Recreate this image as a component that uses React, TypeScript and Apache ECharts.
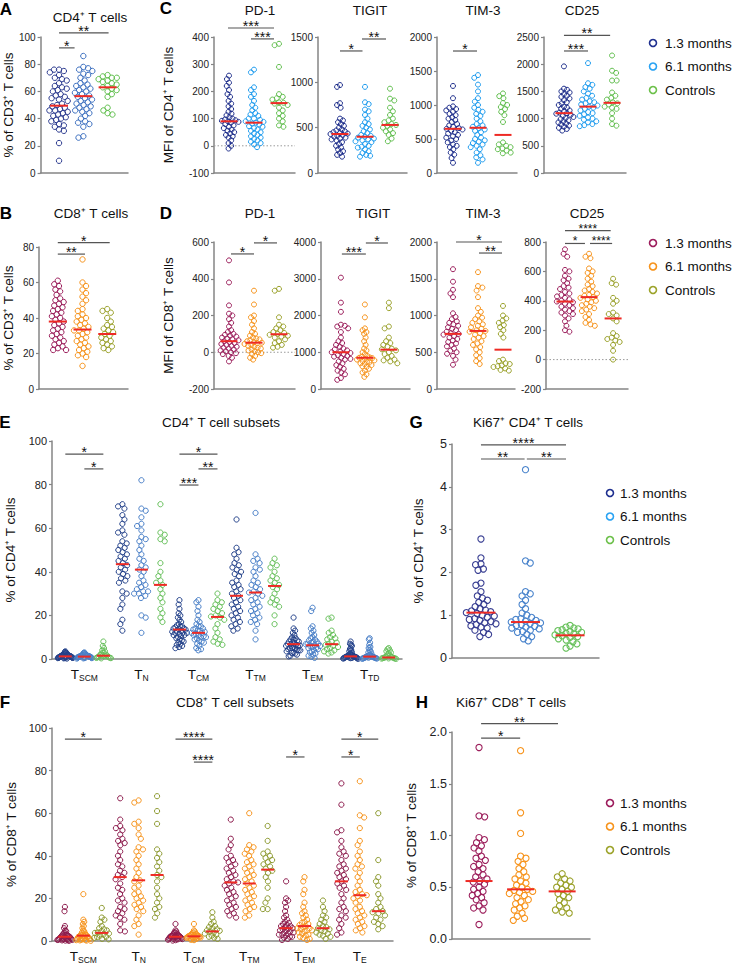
import React, { useEffect, useRef } from 'react';
import * as echarts from 'echarts';

// ---------------- DATA ----------------
// A: CD4+ T cells, % of CD3+
const A_M13 = [76,76,75,74,72,70,69,68,66,64,63,62,61,60,58,57,56,55,54,53,51,50,49,48,47,46,46,45,44,43,42,41,40,39,38,36,35,34,32,31,22,9];
const A_M61 = [86,78,77,76,75,73,72,70,68,66,65,64,63,62,61,60,59,58,57,56,55,54,53,52,51,50,49,48,47,46,45,44,42,40,38,37,36,34,27,26];
const A_CTRL = [72,71,70,70,69,68,67,66,65,64,63,62,61,60,58,56,48,46,44,43];
const A_MED = [49.5, 56.5, 63];
// B: CD8+ T cells, % of CD3+
const B_M13 = [61,59,58,56,55,53,51,50,49,48,47,46,45,44,43,42,41,40,39,38,37,36,35,34,33,32,31,30,29,28,27,26,25,24,23,22,22];
const B_M61 = [73,60,58,56,54,52,50,48,45,44,42,41,40,39,38,37,36,35,34,33,33,32,31,30,29,28,27,26,25,24,23,22,21,20,19,18,13];
const B_CTRL = [45,44,43,40,38,36,35,34,33,32,31,30,29,28,27,26,25,24,23,22];
const B_MED = [38, 33.5, 31];
// C: MFI of CD4+ T cells
const C_PD1_M13 = [258,245,232,220,205,190,180,165,155,145,135,125,118,112,105,100,97,94,92,90,88,85,80,75,70,65,60,55,50,45,40,35,30,20,10,0,-10];
const C_PD1_M61 = [280,270,215,205,190,180,165,150,140,130,120,115,110,100,100,95,90,88,85,82,78,72,70,65,60,55,50,45,40,35,30,25,20,15,10,5,-5];
const C_PD1_CTRL = [375,370,290,190,180,175,170,160,158,155,150,140,130,120,110,100,90,75,70];
const C_PD1_MED = [90, 85, 157];
const C_TIGIT_M13 = [970,950,770,750,720,600,580,560,540,520,500,480,470,460,450,440,435,430,420,410,400,390,380,370,360,340,320,300,280,260,240,220,200,180];
const C_TIGIT_M61 = [950,780,760,700,680,640,600,560,540,520,500,480,460,440,420,410,400,390,380,370,360,350,340,320,300,290,280,260,240,220,200,190,180];
const C_TIGIT_CTRL = [930,820,800,720,680,640,600,580,560,540,530,520,500,480,460,440,420,380,350];
const C_TIGIT_MED = [430, 400, 530];
const C_TIM3_M13 = [1280,1100,980,960,940,920,900,870,850,820,800,780,750,720,700,680,660,650,640,620,600,580,560,540,520,500,480,450,420,400,380,350,300,270,220,150];
const C_TIM3_M61 = [1440,1400,1300,1200,1100,1050,1000,960,930,900,870,840,800,760,720,700,680,660,640,620,600,560,520,500,480,460,440,420,400,380,350,300,260,230,200,150];
const C_TIM3_CTRL = [1170,1130,1100,1030,1000,970,940,900,850,750,450,420,400,380,360,350,330,300,290];
const C_TIM3_MED = [650, 665, 560];
const C_CD25_M13 = [1960,1550,1530,1500,1480,1450,1420,1400,1370,1340,1300,1280,1250,1220,1200,1180,1150,1130,1110,1100,1090,1070,1050,1030,1010,990,970,950,930,910,890,870,850,830,810,780];
const C_CD25_M61 = [2020,1650,1620,1580,1550,1500,1460,1420,1380,1350,1320,1300,1280,1260,1240,1220,1200,1180,1150,1120,1100,1080,1050,1020,1000,980,950,930,900,880,860];
const C_CD25_CTRL = [2160,1880,1840,1700,1700,1480,1420,1380,1350,1300,1280,1260,1220,1200,1180,1100,1000,900,870];
const C_CD25_MED = [1100, 1220, 1290];
// D: MFI of CD8+ T cells
const D_PD1_M13 = [500,380,255,210,200,180,160,140,120,110,100,95,90,85,80,75,70,65,60,55,50,45,40,35,30,25,20,15,10,5,0,-5,-10,-20,-30,-50];
const D_PD1_M61 = [335,260,200,190,170,150,130,110,100,90,80,75,70,65,60,55,52,50,45,40,35,30,25,20,15,10,5,0,-5,-10,-20,-30,-40];
const D_PD1_CTRL = [345,335,190,150,140,130,120,110,105,100,95,90,85,80,70,60,50,40,30,25];
const D_PD1_MED = [60, 52, 98];
const D_TIGIT_M13 = [3030,2350,2100,1750,1720,1700,1650,1550,1400,1300,1250,1200,1150,1100,1080,1050,1020,1000,980,950,920,900,880,850,820,800,750,700,650,600,550,500,450,400,300,250];
const D_TIGIT_M61 = [2300,1950,1650,1600,1550,1500,1400,1300,1200,1100,1050,1000,950,900,880,860,850,840,820,800,780,760,740,720,700,680,650,620,600,550,500,450,400,330];
const D_TIGIT_CTRL = [2350,2200,1700,1650,1400,1300,1250,1200,1150,1100,1080,1050,1000,950,900,850,800,780,750,700];
const D_TIGIT_MED = [1000, 850, 1070];
const D_TIM3_M13 = [1630,1460,1350,1300,1250,1030,980,950,920,900,880,860,840,820,800,780,760,750,740,720,700,680,660,640,620,600,580,550,520,500,480,450,400,330];
const D_TIM3_M61 = [1590,1400,1380,1340,1250,1100,1050,1000,970,950,920,900,880,860,840,820,800,790,780,760,740,720,700,680,650,620,600,570,540,500,460,420,380,340];
const D_TIM3_CTRL = [1130,1000,960,930,900,870,840,800,750,700,400,380,350,340,320,310,300,280,260,250];
const D_TIM3_MED = [750, 790, 535];
const D_CD25_M13 = [750,720,700,610,600,570,550,540,520,500,490,480,460,450,440,430,420,410,400,395,390,380,370,360,350,340,330,320,310,300,280,260,230,200,190];
const D_CD25_M61 = [720,700,690,620,600,590,570,550,530,510,500,480,470,460,450,440,435,425,420,410,400,390,380,370,360,350,340,330,310,290,270,250,240,230];
const D_CD25_CTRL = [550,520,510,420,400,380,320,310,300,280,260,180,160,150,140,130,120,100,60,0];
const D_CD25_MED = [395, 425, 280];
// E: CD4+ T cell subsets (% of CD4+)
const E_SCM_13 = [3.5,3.2,3,2.8,2.6,2.4,2.2,2,1.9,1.8,1.7,1.6,1.5,1.5,1.4,1.4,1.3,1.3,1.2,1.2,1.1,1.1,1,1,0.9,0.9,0.8,0.8,0.7,0.7,0.6,0.6,0.5,0.5,0.4,0.3,0.2,2.1,1.8,1.6];
const E_SCM_61 = [3,2.8,2.6,2.4,2.2,2,1.9,1.8,1.7,1.6,1.5,1.4,1.3,1.2,1.2,1.1,1.1,1,1,0.9,0.9,0.8,0.8,0.7,0.7,0.6,0.5,0.4,0.3,0.2,1.4,1.3,1.5];
const E_SCM_C = [8,6,5,4,3.5,3,2.5,2,1.8,1.6,1.5,1.4,1.2,1,0.8,0.6,0.5,0.4,0.3];
const E_TN_13 = [71,70,69,66,64,62,59,58,57,54,53,52,51,50,49,48,47,46,45,44,43,42,41,40,39,38,37,36,35,31,30,28,25,23,18,16,13];
const E_TN_61 = [82,69,68,65,62,61,59,56,55,54,52,50,48,46,45,43,42,41,40,38,36,35,34,33,32,31,31,30,30,29,28,20,19,12];
const E_TN_C = [71,58,57,55,54,44,40,38,36,35,34,32,30,28,26,23,21,19,17];
const E_TCM_13 = [27,25,23,21,20,19,18,17,16,15.5,15,14.5,14,14,13.8,13.5,13,13,12.5,12,12,11.5,11,11,10.5,10,9.5,9,8.5,8,7.5,7,6.5,6,5.5,5,15,12];
const E_TCM_61 = [27,26,24,22,20,18,17,16,15,15,14,14,13.5,13,13,12.5,12,12,11.5,11,11,10.5,10,10,9.5,9,8.5,8,7.5,7,6,5,4.5,4];
const E_TCM_C = [30,27,26,25,24,23,22,21,20,19.5,19,18,16,14,12,10,9,8,7,6.5];
const E_TTM_13 = [64,51,49,48,46,44,43,42,41,40,39,38,36,35,34,33,32,31,30,29,28,27,26,25,24,23,22,21,20,19,18,17,16,15,14,13];
const E_TTM_61 = [67,48,46,45,44,42,41,40,38,36,35,34,33,32,31,30.5,30,29,28,27,26,25,24,23,22,21,20,19,18,17,16,13,9];
const E_TTM_C = [46,44,43,42,40,38,37,36,35,34,33,32,30,28,27,26,25,24,20,16];
const E_TEM_13 = [19,14,13,12,11,10,9.5,9,9,8.5,8,8,7.5,7.2,7,6.8,6.5,6.2,6,6,5.5,5,5,4.8,4.5,4.2,4,4,3.5,3,2.8,2.5,2,1.5,1.2];
const E_TEM_61 = [23.5,22,15,14,13,12,11,10,9.5,9,8.5,8,8,7.5,7,7,6.8,6.3,6,6,5.5,5,5,4.5,4,3.5,3,2.5,2,1.5,1,0.5];
const E_TEM_C = [19,18.5,13,12,11,10,9.5,9,8,7.5,7,6.5,6,5.5,5,4.5,4,3.5,3,2.5];
const E_TTD_13 = [8,7,6.5,6,5,4.5,4,3.5,3,2.5,2.2,2,1.8,1.6,1.5,1.4,1.3,1.2,1.1,1,1,0.9,0.8,0.8,0.7,0.6,0.6,0.5,0.4,0.4,0.3,0.2,0.1];
const E_TTD_61 = [9.5,9,7.5,6.5,5.5,5,4,3.5,3,2.5,2,1.8,1.5,1.3,1.2,1.1,1,0.9,0.8,0.8,0.7,0.6,0.6,0.5,0.4,0.4,0.3,0.2,0.1];
const E_TTD_C = [5,4.5,4,3.5,3,2.5,2,1.5,1.2,1,0.8,0.7,0.6,0.5,0.4,0.3,0.2,0.2,0.1];
const E_MED = [1.2,1.1,1.5,43.5,41,34,13.5,12,19.3,29,30.5,33.5,6.8,6.3,6.8,1.2,1.1,0.7];
const E_CATS = ['SCM', 'N', 'CM', 'TM', 'EM', 'TD'];
// F: CD8+ T cell subsets (% of CD8+)
const F_SCM_13 = [16,14,7,6,5,4.5,4,3.5,3,3,2.8,2.5,2.5,2.2,2,2,1.8,1.5,1.5,1.2,1.2,1,1,0.8,0.8,0.6,0.5,0.5,0.4,0.3,0.2,0.1];
const F_SCM_61 = [22,10,9,8,7,6,5,4.5,4,3.5,3,3,2.8,2.5,2.5,2.2,2,2,1.8,1.5,1.5,1.2,1,1,0.8,0.6,0.5,0.4,0.3,0.2,0.1];
const F_SCM_C = [15.5,11,10,9,7,6,5.5,5,4.5,4,3.8,3.5,3,2.5,2,1.8,1.5,1,0.8];
const F_TN_13 = [67,57,54,53,52,50,48,47,46,45,42,40,38,36,35,33,32,31,30,29,27,25,24,22,20,19,18,16,15,14,13,12,11,10,8,5,4.5];
const F_TN_61 = [66,65,56,55,53,50,48,44,43,42,40,38,36,34,32,30,28.5,28,26,25,23,22,21,20,19,18,17,16,15,14,12,10,8,7,3];
const F_TN_C = [68,61,55,43,41,39,37,35,33,31,30,28,25,22,20,18,16,15,13,11];
const F_TCM_13 = [8,5,4.5,4,3.8,3.5,3.2,3,2.8,2.6,2.5,2.4,2.3,2.2,2.1,2,1.9,1.8,1.7,1.6,1.5,1.4,1.2,1.1,1,0.9,0.8,0.6,0.4,0.2];
const F_TCM_61 = [8,5,4.5,4,3.6,3.5,3.2,3,2.9,2.8,2.6,2.5,2.4,2.3,2.2,2.1,2,1.9,1.8,1.7,1.6,1.5,1.4,1.2,1,0.8,0.6,0.4];
const F_TCM_C = [13.5,11,9,8,7,6.5,6,5.5,5,4.8,4.5,4,3.5,3,2.5,2,1.5,1];
const F_TTM_13 = [57,48,45,43,40,39,38,37,36,35,34,33,32,31,30,29,28,27.5,27,26,25,24,23,22,21,20,19,18,17,16,15,14,13,12,11];
const F_TTM_61 = [60,45,44,43,42,41,40,38,37,36,35,34,33,32,31,30,29,28,27,26,25,24,23,22,21,20,19,18,17,16,15,14,12,11];
const F_TTM_C = [54,47,42,41,40,39,38,37,36,35,34,33,32,30,28,25,20,18,15,15];
const F_TEM_13 = [28,20,19,18,16,14,12,11,10,9,8.5,8,7.5,7,7,6.5,6,6,5.5,5,5,4.5,4,4,3.5,3,3,2.5,2,2,1.5,1,0.5];
const F_TEM_61 = [30,28,24,22,18,16,14,13,12,11,10,9,8.5,8,7.5,7,6.5,6,6,5.5,5,5,4.5,4,3.5,3,2.5,2,1.5,1,0.5];
const F_TEM_C = [19,16,14,12,11,10,9,8,7,6.5,6,5.5,5,4.5,4,3.5,3,2.5,2,1];
const F_TE_13 = [74,64,52,51,47,44,42,41,40,38,36,35,34,33,32,31,30,29,28,27,26,25,24,22,20,18,16,15,14,12,11,10,8,6,4,3];
const F_TE_61 = [75,59,58,53,47,45,42,40,38,36,35,34,32,30,28,26,24,23,22,21.5,21,20,19,18,16,15,14,13,12,11,10,9,8,7,6,5,4];
const F_TE_C = [60,38,30,28,26,22,20,18,16,15,14,13.5,13,12,11,10,9,8,7,5.5];
const F_MED = [2,2.5,3.8,30,28.5,31,2,2.2,4.5,27.5,27,33.5,6,7,6,28,21.5,14];
const F_CATS = ['SCM', 'N', 'CM', 'TM', 'EM', 'E'];
// G: Ki67+ CD4+ T cells
const G_M13 = [2.78,2.34,2.2,2.18,2.08,2.05,1.75,1.7,1.55,1.45,1.4,1.35,1.3,1.25,1.2,1.15,1.12,1.1,1.08,1.06,1.04,1.0,0.98,0.95,0.92,0.9,0.88,0.85,0.82,0.8,0.78,0.75,0.72,0.7,0.65,0.6,0.55,0.5];
const G_M61 = [4.4,2.27,2.22,1.55,1.5,1.45,1.35,1.25,1.15,1.05,1.0,0.95,0.92,0.9,0.88,0.86,0.84,0.82,0.8,0.78,0.76,0.74,0.72,0.7,0.68,0.65,0.62,0.6,0.55,0.5,0.45,0.4];
const G_CTRL = [0.76,0.72,0.7,0.68,0.66,0.64,0.62,0.6,0.58,0.56,0.54,0.52,0.5,0.48,0.45,0.42,0.38,0.33,0.28,0.23];
const G_MED = [1.06, 0.84, 0.53];
// H: Ki67+ CD8+ T cells
const H_M13 = [1.85,1.19,1.18,0.98,0.96,0.93,0.9,0.88,0.85,0.8,0.78,0.76,0.72,0.7,0.68,0.65,0.62,0.6,0.58,0.56,0.55,0.53,0.5,0.48,0.46,0.44,0.42,0.4,0.38,0.35,0.32,0.3,0.28,0.14];
const H_M61 = [1.82,1.22,1.02,0.8,0.78,0.75,0.72,0.68,0.65,0.62,0.6,0.58,0.56,0.54,0.52,0.5,0.48,0.47,0.46,0.45,0.44,0.42,0.4,0.38,0.36,0.34,0.32,0.3,0.28,0.25,0.22,0.2,0.18];
const H_CTRL = [0.63,0.6,0.58,0.56,0.54,0.52,0.5,0.5,0.48,0.46,0.44,0.42,0.4,0.38,0.35,0.32,0.3,0.28,0.26,0.25];
const H_MED = [0.56, 0.48, 0.46];

const LEGEND_LABELS = ['1.3 months', '6.1 months', 'Controls'];

// ---------------- STYLE ----------------
const FONT = "'Liberation Sans', Arial, sans-serif";
const AXIS = '#858585';
const MED_RED = '#ee2a24';
const COL_A = ['#2b3a8f', '#3d70c0', '#5fbf4c'];
const COL_C = ['#1f2f8c', '#1e9cef', '#62bf4f'];
const COL_E = ['#23418a', '#4a80c8', '#66c05a'];
const COL_G = ['#383e92', '#4a84cc', '#66c05a'];
const COL_8 = ['#9c1f5c', '#f7941d', '#9aa12a'];
const COL_F = ['#8c1a4c', '#f7941d', '#8d9a30'];
const LEG4 = ['#1e2f8f', '#2aa3f3', '#6cc04a'];
const LEG8 = ['#9c1c5c', '#f7941d', '#9ca32a'];

type Bracket = [number, number, number, string];

function swarm(ys: number[], d: number, cap: number): number[] {
  const order = ys.map((_, i) => i).sort((a, b) => ys[a] - ys[b]);
  const placed: { x: number; y: number }[] = [];
  const xs = new Array(ys.length).fill(0);
  let side = 1;
  for (const i of order) {
    const y = ys[i];
    const cands = [0];
    for (const p of placed) {
      const dy = Math.abs(p.y - y);
      if (dy < d) {
        const dx = Math.sqrt(d * d - dy * dy);
        cands.push(p.x + dx, p.x - dx);
      }
    }
    cands.sort((a, b) => Math.abs(a) - Math.abs(b) || (a * side > b * side ? -1 : 1));
    let best = 0;
    for (const c of cands) {
      if (placed.every((p) => (p.x - c) * (p.x - c) + (p.y - y) * (p.y - y) >= d * d - 0.01)) {
        best = c;
        break;
      }
    }
    side = -side;
    xs[i] = best;
    placed.push({ x: best, y });
  }
  const m = Math.max(...xs.map((v) => Math.abs(v)), 0.001);
  if (m > cap) for (let i = 0; i < xs.length; i++) xs[i] *= cap / m;
  return xs;
}

interface Panel {
  left: number; top: number; width: number; height: number;
  xMin: number; xMax: number; yMin: number; yMax: number; yStep: number;
  groups: number[][]; medians: number[]; colors: string[];
  r: number; cap: number; medHalf: number; lw: number;
  brackets: Bracket[]; zero?: boolean; starFont?: number;
  yName?: string; nameGap?: number; tickSize: number;
  cats?: string[]; fmt?: (v: number) => string;
}

const PANELS: Panel[] = [
  { left: 38, top: 37, width: 90, height: 136, xMin: -0.76, xMax: 2.84, yMin: 0, yMax: 100, yStep: 20,
    groups: [A_M13, A_M61, A_CTRL], medians: A_MED, colors: COL_A, r: 2.7, cap: 10, medHalf: 9, lw: 1,
    brackets: [[0, 2.04, 103, '**'], [0, 0.64, 92, '*']], yName: '% of CD3⁺ T cells', nameGap: 24, tickSize: 10 },
  { left: 38, top: 247, width: 90, height: 142, xMin: -0.76, xMax: 2.84, yMin: 0, yMax: 80, yStep: 20,
    groups: [B_M13, B_M61, B_CTRL], medians: B_MED, colors: COL_8, r: 2.7, cap: 10, medHalf: 9, lw: 1,
    brackets: [[0, 2.1, 82.5, '*'], [0, 1.1, 76, '**']], yName: '% of CD3⁺ T cells', nameGap: 24, tickSize: 10 },
  { left: 214, top: 37, width: 81, height: 136, xMin: -0.6, xMax: 2.64, yMin: -100, yMax: 400, yStep: 100,
    groups: [C_PD1_M13, C_PD1_M61, C_PD1_CTRL], medians: C_PD1_MED, colors: COL_C, r: 2.5, cap: 9.5, medHalf: 8.5, lw: 1,
    brackets: [[-0.04, 1.8, 433, '***'], [0.88, 1.8, 393, '***']], zero: true, yName: 'MFI of CD4⁺ T cells', nameGap: 39, tickSize: 10 },
  { left: 318, top: 37, width: 89, height: 136, xMin: -0.88, xMax: 2.68, yMin: 0, yMax: 1500, yStep: 500,
    groups: [C_TIGIT_M13, C_TIGIT_M61, C_TIGIT_CTRL], medians: C_TIGIT_MED, colors: COL_C, r: 2.5, cap: 9.5, medHalf: 8.5, lw: 1,
    brackets: [[0, 0.9, 1346, '*'], [0.88, 1.84, 1478, '**']], tickSize: 10 },
  { left: 437, top: 37, width: 80, height: 136, xMin: -0.64, xMax: 2.56, yMin: 0, yMax: 2000, yStep: 500,
    groups: [C_TIM3_M13, C_TIM3_M61, C_TIM3_CTRL], medians: C_TIM3_MED, colors: COL_C, r: 2.5, cap: 9.5, medHalf: 8.5, lw: 1,
    brackets: [[0, 0.96, 1794, '*']], tickSize: 10 },
  { left: 544, top: 37, width: 82, height: 136, xMin: -0.83, xMax: 2.58, yMin: 0, yMax: 2500, yStep: 500,
    groups: [C_CD25_M13, C_CD25_M61, C_CD25_CTRL], medians: C_CD25_MED, colors: COL_C, r: 2.5, cap: 9.5, medHalf: 8.5, lw: 1,
    brackets: [[0, 1.92, 2530, '**'], [0, 1, 2243, '***']], tickSize: 10 },
  { left: 214, top: 242, width: 81, height: 147, xMin: -0.6, xMax: 2.64, yMin: -200, yMax: 600, yStep: 200,
    groups: [D_PD1_M13, D_PD1_M61, D_PD1_CTRL], medians: D_PD1_MED, colors: COL_8, r: 2.5, cap: 9.5, medHalf: 8.5, lw: 1,
    brackets: [[0.08, 1, 535, '*'], [1, 1.92, 595, '*']], zero: true, yName: 'MFI of CD8⁺ T cells', nameGap: 39, tickSize: 10 },
  { left: 321, top: 242, width: 89, height: 147, xMin: -0.83, xMax: 2.88, yMin: 0, yMax: 4000, yStep: 1000,
    groups: [D_TIGIT_M13, D_TIGIT_M61, D_TIGIT_CTRL], medians: D_TIGIT_MED, colors: COL_8, r: 2.5, cap: 9.5, medHalf: 8.5, lw: 1,
    brackets: [[0.04, 1.04, 3673, '***'], [1.04, 1.96, 3973, '*']], tickSize: 10 },
  { left: 437, top: 242, width: 78, height: 147, xMin: -0.64, xMax: 2.48, yMin: 0, yMax: 2000, yStep: 500,
    groups: [D_TIM3_M13, D_TIM3_M61, D_TIM3_CTRL], medians: D_TIM3_MED, colors: COL_8, r: 2.5, cap: 9.5, medHalf: 8.5, lw: 1,
    brackets: [[0.12, 1.96, 2000, '*'], [1.04, 1.96, 1850, '**']], tickSize: 10 },
  { left: 546, top: 242, width: 82, height: 147, xMin: -0.79, xMax: 2.62, yMin: -200, yMax: 800, yStep: 200,
    groups: [D_CD25_M13, D_CD25_M61, D_CD25_CTRL], medians: D_CD25_MED, colors: COL_8, r: 2.5, cap: 9.5, medHalf: 8.5, lw: 1,
    brackets: [[0, 1.9, 878, '****'], [0, 0.83, 790, '*'], [1.04, 1.96, 790, '****']], zero: true, starFont: 12, tickSize: 10 },
  { left: 52, top: 441, width: 350, height: 218, xMin: -0.7, xMax: 17.7, yMin: 0, yMax: 100, yStep: 20,
    groups: [E_SCM_13, E_SCM_61, E_SCM_C, E_TN_13, E_TN_61, E_TN_C, E_TCM_13, E_TCM_61, E_TCM_C,
      E_TTM_13, E_TTM_61, E_TTM_C, E_TEM_13, E_TEM_61, E_TEM_C, E_TTD_13, E_TTD_61, E_TTD_C],
    medians: E_MED, colors: COL_E, r: 2.6, cap: 7.5, medHalf: 6.5, lw: 1,
    brackets: [[0, 2, 94, '*'], [1, 2, 87.2, '*'], [6, 8, 94, '*'], [7, 8, 87.2, '**'], [6, 7, 79.8, '***']],
    yName: '% of CD4⁺ T cells', nameGap: 35, tickSize: 11, cats: E_CATS },
  { left: 52, top: 728, width: 341, height: 213, xMin: -0.7, xMax: 17.8, yMin: 0, yMax: 100, yStep: 20,
    groups: [F_SCM_13, F_SCM_61, F_SCM_C, F_TN_13, F_TN_61, F_TN_C, F_TCM_13, F_TCM_61, F_TCM_C,
      F_TTM_13, F_TTM_61, F_TTM_C, F_TEM_13, F_TEM_61, F_TEM_C, F_TE_13, F_TE_61, F_TE_C],
    medians: F_MED, colors: COL_F, r: 2.6, cap: 7.5, medHalf: 6.5, lw: 1,
    brackets: [[0, 2, 94.8, '*'], [6, 8, 94.8, '****'], [7, 8, 84, '****'], [12, 13, 86.4, '*'], [15, 17, 94.8, '*'], [15, 16, 86.4, '*']],
    yName: '% of CD8⁺ T cells', nameGap: 34, tickSize: 11, cats: F_CATS },
  { left: 452, top: 444, width: 147, height: 214, xMin: -0.65, xMax: 2.65, yMin: 0, yMax: 5, yStep: 1,
    groups: [G_M13, G_M61, G_CTRL], medians: G_MED, colors: COL_G, r: 3.1, cap: 15, medHalf: 14.5, lw: 1.1,
    brackets: [[0, 1.91, 4.98, '****'], [0, 0.98, 4.65, '**'], [1.03, 1.91, 4.65, '**']],
    yName: '% of CD4⁺ T cells', nameGap: 27, tickSize: 12.5 },
  { left: 452, top: 732, width: 138, height: 207, xMin: -0.65, xMax: 2.67, yMin: 0, yMax: 2, yStep: 0.5,
    groups: [H_M13, H_M61, H_CTRL], medians: H_MED, colors: COL_8, r: 3.1, cap: 14, medHalf: 13.5, lw: 1.1,
    brackets: [[0.05, 1.9, 2.08, '**'], [0.05, 0.99, 1.94, '*']],
    yName: '% of CD8⁺ T cells', nameGap: 34, tickSize: 12.5, fmt: (v: number) => v.toFixed(1) },
];

const TITLES: [string, number, number][] = [
  ['CD4⁺ T cells', 90, 17], ['CD8⁺ T cells', 91, 213],
  ['PD-1', 260, 10], ['TIGIT', 370, 10], ['TIM-3', 483, 10], ['CD25', 582, 10],
  ['PD-1', 260, 213], ['TIGIT', 373, 213], ['TIM-3', 483, 213], ['CD25', 587, 213],
  ['CD4⁺ T cell subsets', 221, 422], ['CD8⁺ T cell subsets', 235, 702],
  ['Ki67⁺ CD4⁺ T cells', 528, 422], ['Ki67⁺ CD8⁺ T cells', 511, 702],
];
const LETTERS: [string, number, number][] = [
  ['A', 6, 9], ['B', 6, 213], ['C', 166, 8], ['D', 166, 213], ['E', 5, 422], ['F', 5, 702], ['G', 416, 422], ['H', 422, 702],
];
const LEGENDS: [number, number, number, string[]][] = [
  [653, 43, 12, LEG4], [653, 243, 12, LEG8], [610, 493, 10, LEG4], [610, 803, 10, LEG8],
];

function buildOption() {
  const grid: any[] = [];
  const xAxis: any[] = [];
  const yAxis: any[] = [];
  const series: any[] = [];
  PANELS.forEach((p, i) => {
    grid.push({ left: p.left, top: p.top, width: p.width, height: p.height });
    const xa: any = {
      type: 'value', gridIndex: i, min: p.xMin, max: p.xMax,
      axisLine: { show: true, onZero: false, lineStyle: { color: AXIS, width: 1.5 } },
      axisTick: { show: false }, splitLine: { show: false }, axisLabel: { show: false },
    };
    if (p.cats) {
      const cats = p.cats;
      xa.axisLabel = {
        show: true, customValues: [1, 4, 7, 10, 13, 16], margin: 7, interval: 0,
        formatter: (v: number) => {
          const k = Math.round((v - 1) / 3);
          if (Math.abs(v - (1 + 3 * k)) > 0.01 || k < 0 || k >= cats.length) return '';
          return '{t|T}{s|' + cats[k] + '}';
        },
        rich: {
          t: { fontSize: 13.5, fontFamily: FONT, color: '#111', lineHeight: 16 },
          s: { fontSize: 8.5, fontFamily: FONT, color: '#111', verticalAlign: 'bottom', lineHeight: 4 },
        },
      };
    }
    xAxis.push(xa);
    const fmt = p.fmt || ((v: number) => String(v));
    yAxis.push({
      type: 'value', gridIndex: i, min: p.yMin, max: p.yMax, interval: p.yStep,
      axisLine: { show: true, onZero: false, lineStyle: { color: AXIS, width: 1.5 } },
      axisTick: { show: true, length: 3, lineStyle: { color: AXIS, width: 1.2 } },
      axisLabel: { fontSize: p.tickSize, color: '#222', fontFamily: FONT, margin: 5, formatter: fmt },
      splitLine: { show: false },
      name: p.yName, nameLocation: 'middle', nameGap: p.nameGap,
      nameTextStyle: { fontSize: 13.5, color: '#111', fontFamily: FONT },
    });
    if (p.zero) {
      series.push({
        type: 'custom', xAxisIndex: i, yAxisIndex: i, silent: true, clip: false, z: 1,
        data: [[0, 0]], encode: { x: 0, y: 1 },
        renderItem: (params: any, api: any) => {
          const cs = params.coordSys;
          const y = api.coord([0, 0])[1];
          return { type: 'line', shape: { x1: cs.x, y1: y, x2: cs.x + cs.width, y2: y },
            style: { stroke: '#9a9a9a', lineWidth: 1, lineDash: [1.5, 2] } };
        },
      });
    }
    series.push({
      type: 'custom', xAxisIndex: i, yAxisIndex: i, silent: true, clip: false, z: 2,
      name: 'dots' + i,
      data: p.medians.map((m, gi) => [gi, m]), encode: { x: 0, y: 1 },
      renderItem: (params: any, api: any) => {
        const gi = params.dataIndex;
        const vals = p.groups[gi];
        const color = p.colors[gi % 3];
        const pts = vals.map((v) => api.coord([gi, v]));
        const cx = api.coord([gi, p.medians[gi]])[0];
        const offs = swarm(pts.map((q: number[]) => q[1]), p.r * 1.85, p.cap);
        const children: any[] = pts.map((q: number[], k: number) => ({
          type: 'circle', shape: { cx: cx + offs[k], cy: q[1], r: p.r },
          style: { fill: 'none', stroke: color, lineWidth: p.lw },
        }));
        const m = api.coord([gi, p.medians[gi]]);
        children.push({ type: 'line', shape: { x1: m[0] - p.medHalf, y1: m[1], x2: m[0] + p.medHalf, y2: m[1] },
          style: { stroke: MED_RED, lineWidth: 2 } });
        return { type: 'group', children };
      },
    });
    const sf = p.starFont || 14;
    series.push({
      type: 'custom', xAxisIndex: i, yAxisIndex: i, silent: true, clip: false, z: 3,
      data: p.brackets.map((b) => [b[0], b[2]]), encode: { x: 0, y: 1 },
      renderItem: (params: any, api: any) => {
        const b = p.brackets[params.dataIndex];
        const a = api.coord([b[0], b[2]]);
        const c = api.coord([b[1], b[2]]);
        return { type: 'group', children: [
          { type: 'line', shape: { x1: a[0], y1: a[1], x2: c[0], y2: c[1] }, style: { stroke: '#555', lineWidth: 1.2 } },
          { type: 'text', style: { text: b[3], x: (a[0] + c[0]) / 2, y: a[1] - 2, textAlign: 'center',
            textVerticalAlign: 'middle', verticalAlign: 'middle', font: sf + 'px ' + FONT, fill: '#111' } },
        ] };
      },
    });
  });

  const graphic: any[] = [];
  TITLES.forEach(([t, x, y]) => graphic.push({ type: 'text', x, y, silent: true,
    style: { text: t, textAlign: 'center', textVerticalAlign: 'middle', verticalAlign: 'middle', font: '13.5px ' + FONT, fill: '#111' } }));
  LETTERS.forEach(([t, x, y]) => graphic.push({ type: 'text', x, y, silent: true,
    style: { text: t, textAlign: 'center', textVerticalAlign: 'middle', verticalAlign: 'middle', font: 'bold 17px ' + FONT, fill: '#000' } }));
  LEGENDS.forEach(([x, y, gap, cols]) => {
    LEGEND_LABELS.forEach((lab, k) => {
      const yy = y + k * 23.5;
      graphic.push({ type: 'circle', silent: true, shape: { cx: x, cy: yy, r: 3.5 }, style: { fill: 'none', stroke: cols[k], lineWidth: 1.6 } });
      graphic.push({ type: 'text', x: x + gap, y: yy, silent: true,
        style: { text: lab, textAlign: 'left', textVerticalAlign: 'middle', verticalAlign: 'middle', font: '13.5px ' + FONT, fill: '#111' } });
    });
  });

  return { animation: false, backgroundColor: '#ffffff', grid, xAxis, yAxis, series, graphic };
}

export default function App() {
  const ref = useRef<HTMLDivElement>(null);
  useEffect(() => {
    if (!ref.current) return;
    const chart = echarts.init(ref.current, null, { renderer: 'svg' });
    chart.setOption(buildOption() as any);
    return () => chart.dispose();
  }, []);
  return <div ref={ref} style={{ position: 'fixed', left: 0, top: 0, width: 733, height: 964 }} />;
}
